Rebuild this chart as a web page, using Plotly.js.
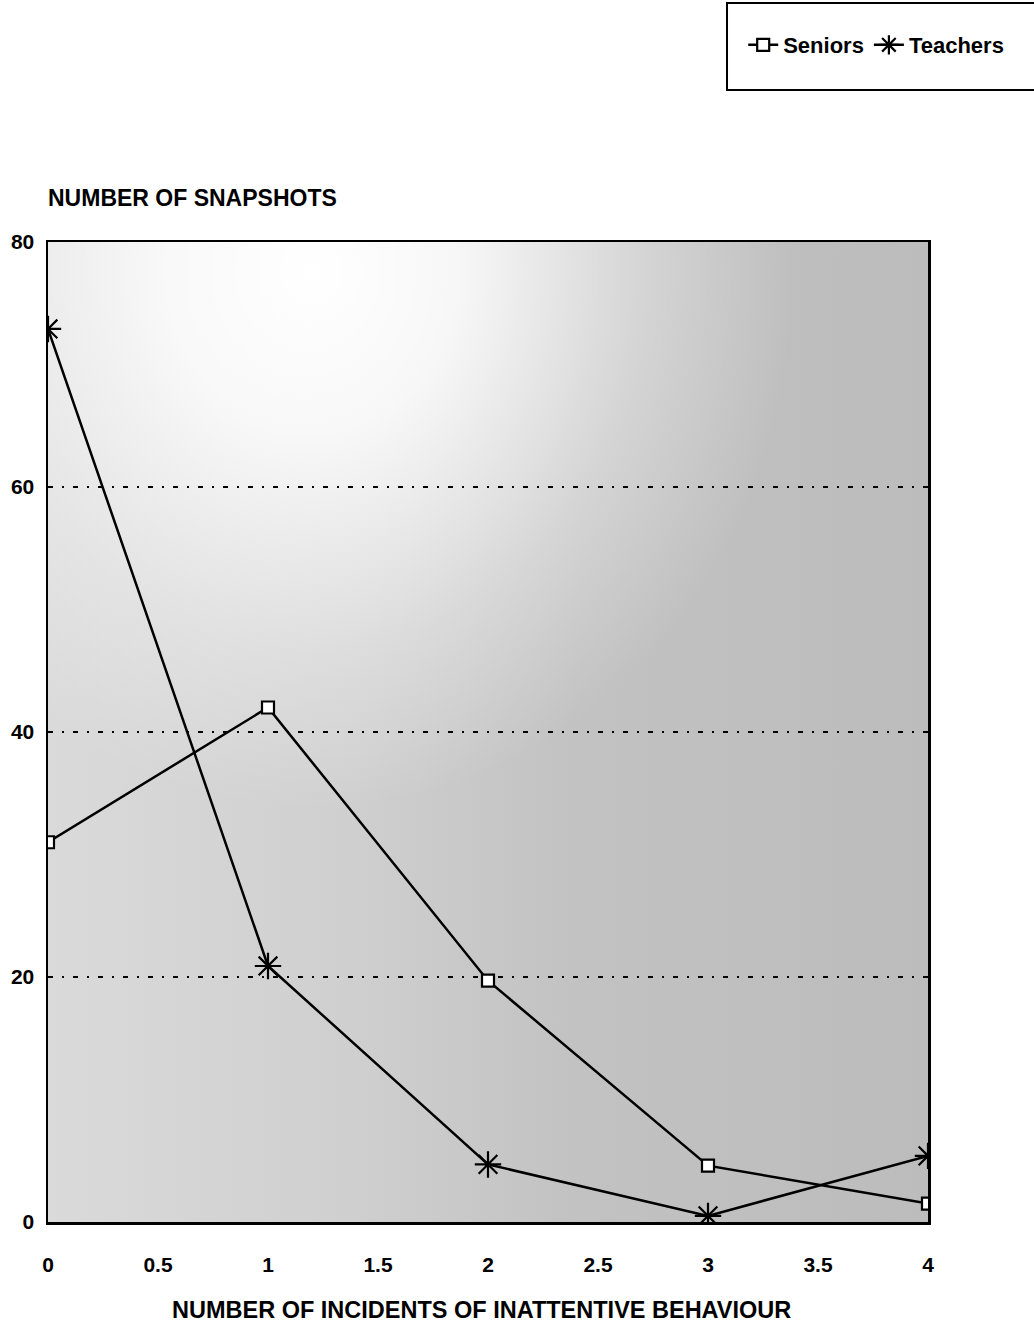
<!DOCTYPE html>
<html><head><meta charset="utf-8">
<script src="https://cdn.plot.ly/plotly-3.0.1.min.js"></script>
<style>html,body{margin:0;padding:0;background:#fff}</style>
</head><body>
<div id="chart" style="width:1034px;height:1332px"></div>
<script>
const incidents = [0, 1, 2, 3, 4];
const seniors = [31, 42, 19.7, 4.6, 1.5];
const teachers = [72.9, 20.9, 4.7, 0.5, 5.4];
const xTicks = [0, 0.5, 1, 1.5, 2, 2.5, 3, 3.5, 4];
const xTickText = ['0', '0.5', '1', '1.5', '2', '2.5', '3', '3.5', '4'];
const yTicks = [0, 20, 40, 60, 80];

const F = 'Liberation Sans, Arial, Helvetica, sans-serif';
const bgSvg = "<svg xmlns='http://www.w3.org/2000/svg' width='880' height='980'>" +
  "<defs><linearGradient id='h' x1='0' y1='0' x2='1' y2='0'>" +
  "<stop offset='0' stop-color='#dadada'/><stop offset='0.35' stop-color='#cfcfcf'/>" +
  "<stop offset='0.6' stop-color='#c2c2c2'/><stop offset='1' stop-color='#bcbcbc'/></linearGradient>" +
  "<radialGradient id='g' cx='0.3' cy='0.03' r='0.55'>" +
  "<stop offset='0' stop-color='#ffffff' stop-opacity='1'/><stop offset='0.3' stop-color='#ffffff' stop-opacity='0.85'/>" +
  "<stop offset='0.7' stop-color='#ffffff' stop-opacity='0.3'/><stop offset='1' stop-color='#ffffff' stop-opacity='0'/>" +
  "</radialGradient></defs><rect width='880' height='980' fill='url(#h)'/>" +
  "<rect width='880' height='980' fill='url(#g)'/></svg>";

const traces = [
  {x: incidents, y: seniors, name: 'Seniors', type: 'scatter', mode: 'lines+markers',
   line: {color: '#000', width: 2.5},
   marker: {symbol: 'square', size: 12, color: '#fff', line: {color: '#000', width: 2.2}}},
  {x: incidents, y: teachers, name: 'Teachers', type: 'scatter', mode: 'lines+markers',
   line: {color: '#000', width: 2.5},
   marker: {symbol: 'asterisk-open', size: 22, color: '#000', line: {color: '#000', width: 2.2}}}
];
const layout = {
  width: 1034, height: 1332,
  margin: {l: 48, r: 106, t: 242, b: 110, autoexpand: false},
  paper_bgcolor: '#fff', plot_bgcolor: '#c9c9c9',
  font: {family: F, size: 22, color: '#000', weight: 'bold'},
  showlegend: true,
  legend: {orientation: 'h', x: 0.79, xanchor: 'left', y: 1.201, yanchor: 'middle',
           borderwidth: 0, bgcolor: 'rgba(0,0,0,0)',
           font: {family: F, size: 22, color: '#000', weight: 'bold'},
           itemwidth: 30, traceorder: 'normal'},
  images: [{source: 'data:image/svg+xml;charset=utf-8,' + encodeURIComponent(bgSvg),
            xref: 'paper', yref: 'paper', x: 0, y: 1, sizex: 1, sizey: 1,
            xanchor: 'left', yanchor: 'top', sizing: 'stretch', layer: 'below'}],
  xaxis: {range: [0, 4], tickvals: xTicks, ticktext: xTickText, showgrid: false, zeroline: false,
          showline: true, linecolor: '#000', linewidth: 2.5, mirror: true, ticks: '',
          ticklabelstandoff: 22, tickfont: {family: F, size: 21, weight: 'bold'}},
  yaxis: {range: [0, 80], tickvals: yTicks, showgrid: true, gridcolor: '#000', gridwidth: 2,
          griddash: '5px,9px,2px,9px', zeroline: false, showline: true, linecolor: '#000', linewidth: 2.5,
          mirror: true, ticks: '', ticklabelstandoff: 7, tickfont: {family: F, size: 21, weight: 'bold'}},
  shapes: [
    {type: 'rect', xref: 'paper', yref: 'paper', x0: 0.7716, x1: 1.14, y0: 1.1551, y1: 1.2439,
     fillcolor: 'rgba(0,0,0,0)', line: {color: '#000', width: 2}, layer: 'above'}
  ],
  annotations: [
    {text: 'NUMBER OF SNAPSHOTS', xref: 'paper', yref: 'paper', x: -0.002, y: 1.045,
     xanchor: 'left', yanchor: 'middle', showarrow: false,
     font: {family: F, size: 23, weight: 'bold'}},
    {text: 'NUMBER OF INCIDENTS OF INATTENTIVE BEHAVIOUR', xref: 'paper', yref: 'paper', x: 0.493, y: -0.09,
     xanchor: 'center', yanchor: 'middle', showarrow: false,
     font: {family: F, size: 23.5, weight: 'bold'}}
  ]
};
Plotly.newPlot('chart', traces, layout, {displayModeBar: false, staticPlot: true});
</script>
</body></html>
